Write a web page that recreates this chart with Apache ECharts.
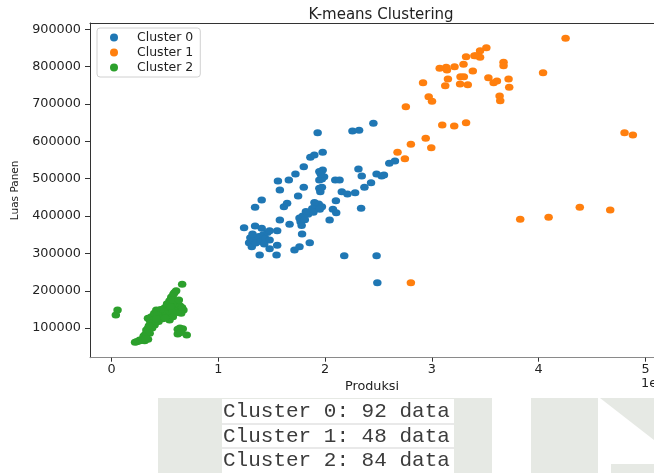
<!DOCTYPE html>
<html>
<head>
<meta charset="utf-8">
<script src="https://cdn.jsdelivr.net/npm/echarts@6/dist/echarts.min.js"></script>
<style>
html,body{margin:0;padding:0;background:#fff;}
#chart{width:654px;height:473px;}
</style>
</head>
<body>
<div id="chart"></div>
<script>
// ---- data (x = Produksi, y = Luas Panen) ----
const seriesNames = ['Cluster 0', 'Cluster 1', 'Cluster 2'];
const clusterCounts = [92, 48, 84];

const cluster0X = [2.452,1.930,2.256,2.318,1.977,1.862,1.899,1.800,1.722,1.660,1.558,1.576,1.406,1.344,1.241,1.344,1.406,1.288,1.313,
  1.30,1.33,1.36,1.38,1.42,1.35,1.40,1.44,1.32,1.46,1.480,1.551,1.480,1.387,1.480,1.551,1.545,1.713,1.760,1.856,1.784,1.667,1.576,
  1.614,1.644,1.747,1.800,1.76,1.79,1.77,1.81,1.84,1.78,1.82,1.88,1.91,1.94,1.97,1.90,1.95,1.946,1.955,1.970,1.946,1.977,1.970,
  1.946,1.99,2.095,2.135,2.101,2.042,2.073,2.104,2.156,2.209,2.281,2.312,2.343,2.337,2.368,2.430,2.482,2.529,2.551,2.601,2.654,
  2.179,2.482,2.489,1.43,1.89,1.96];
const cluster0Y = [648300,623200,627700,629600,570700,557300,563500,532100,512600,496500,493800,469700,443000,423400,368800,373300,367200,328700,317900,
  342000,335000,338000,345000,350000,328000,332000,340000,352000,356000,335900,360800,360800,295700,312600,321700,295700,309100,317900,328700,351900,377900,389400,
  425100,434200,453700,476900,395000,400000,385000,390000,405000,375000,412000,420000,428000,432000,425000,436000,418000,474300,465200,477000,519000,523000,499000,
  496500,505000,496500,496500,441100,389400,418000,408900,465200,459100,462500,525800,507200,420800,476900,489300,512600,507200,509900,541200,547400,
  293900,293900,221600,325000,410000,512000];

const cluster1X = [4.252,3.510,3.451,3.413,3.451,3.398,3.320,3.671,3.671,3.296,3.212,3.134,3.073,3.141,3.383,4.041,2.917,3.150,3.268,3.299,
  3.264,3.336,3.125,3.529,3.578,3.609,3.718,3.724,2.970,3.001,3.634,3.640,2.756,3.097,3.209,3.320,4.804,4.882,2.942,2.803,2.994,2.678,2.747,
  3.827,4.093,4.385,4.670,2.803];
const cluster1Y = [875900,850700,842700,829300,825000,829300,826600,811600,802500,806300,799900,798300,795600,791000,788400,783800,757000,766900,773100,773100,
  753500,751700,749000,770400,757000,761600,766900,744700,719500,707200,721400,708800,692800,643800,641100,650100,623200,617000,608200,592100,583000,570700,553600,
  391300,396600,423400,416200,221600];

const cluster2X = [0.056,0.040,0.661,0.605,0.580,0.559,0.543,0.590,0.570,0.673,0.652,0.466,0.48,0.50,0.52,0.54,0.56,0.58,0.60,0.62,0.64,
  0.50,0.52,0.54,0.56,0.58,0.60,0.62,0.55,0.53,0.51,0.57,0.49,0.47,0.45,0.44,0.46,0.60,0.62,0.64,0.66,0.52,0.55,0.57,0.543,0.574,
  0.341,0.372,0.419,0.40,0.43,0.39,0.36,0.372,0.341,0.403,0.419,0.326,0.357,0.310,0.38,0.35,0.33,0.30,
  0.233,0.264,0.310,0.341,0.25,0.28,0.22,0.32,0.620,0.667,0.620,0.704,0.64,0.65,0.48,0.46,0.44,0.42,0.50,0.63];
const cluster2Y = [148500,135100,217300,200000,191300,182500,173400,195000,185000,148500,139600,141200,150000,155000,160000,165000,168000,165000,160000,155000,150000,
  145000,148000,152000,155000,150000,145000,142000,140000,135000,138000,143000,130000,135000,140000,145000,150000,170000,165000,160000,155000,165000,158000,175000,121700,130600,
  126200,130600,148500,140000,135000,122000,120000,112800,99400,108300,117100,94900,86100,81500,100000,106000,88000,78000,
  63600,68100,66300,70000,65000,67000,62000,72000,96800,98400,84200,81500,100000,88000,125000,128000,118000,125000,128000,175000];

const xTickValues = [0, 1, 2, 3, 4, 5];              // in units of 1e6
const yTickValues = [100000,200000,300000,400000,500000,600000,700000,800000,900000];
const colors = ['#1f77b4', '#ff7f0e', '#2ca02c'];

const FONT = 'DejaVu Sans';
function pairs(xs, ys) { return xs.map((x, i) => [x * 1e6, ys[i]]); }

const chart = echarts.init(document.getElementById('chart'));
const axisText = { fontFamily: FONT, fontSize: 12.8, color: '#222' };

const option = {
  animation: false,
  backgroundColor: '#fff',
  title: {
    text: 'K-means Clustering', left: 376, top: 3, textAlign: 'center',
    textStyle: { fontFamily: FONT, fontSize: 15, fontWeight: 'normal', color: '#222' }
  },
  legend: {
    orient: 'vertical', left: 97, top: 28,
    padding: [2, 7, 2, 13],
    itemWidth: 8, itemHeight: 8, itemGap: 0, icon: 'circle',
    backgroundColor: 'rgba(255,255,255,0.8)', borderColor: '#d0d0d0', borderWidth: 1, borderRadius: 3,
    formatter: name => '{s|}' + name,
    textStyle: { fontFamily: FONT, fontSize: 12.5, color: '#222', lineHeight: 15,
      rich: { s: { width: 14, fontSize: 12.5, lineHeight: 15 } } },
    data: seriesNames
  },
  grid: { left: 90, top: 23, width: 567.3, height: 334.7, containLabel: false },
  xAxis: [{
    type: 'value', min: -202000, max: 5080000,
    axisLine: { show: true, onZero: false, lineStyle: { color: '#8a8a8a', width: 1 } },
    axisTick: { show: true, length: 4, customValues: xTickValues.map(v => v * 1e6), lineStyle: { color: '#333' } },
    axisLabel: Object.assign({ customValues: xTickValues.map(v => v * 1e6), margin: 5,
      formatter: v => String(Math.round(v / 1e6)) }, axisText),
    splitLine: { show: false },
    name: 'Produksi', nameLocation: 'middle', nameGap: 19,
    nameTextStyle: { fontFamily: FONT, fontSize: 12.8, color: '#222' }
  }, {
    type: 'value', position: 'top', min: -202000, max: 5080000,
    axisLine: { show: true, onZero: false, lineStyle: { color: '#333', width: 1 } },
    axisTick: { show: false }, axisLabel: { show: false }, splitLine: { show: false }
  }],
  yAxis: {
    type: 'value', min: 20750, max: 916900,
    axisLine: { show: true, onZero: false, lineStyle: { color: '#333', width: 1 } },
    axisTick: { show: true, length: 5, customValues: yTickValues, lineStyle: { color: '#333' } },
    axisLabel: Object.assign({ customValues: yTickValues, margin: 9, formatter: v => String(v) }, axisText),
    splitLine: { show: false },
    name: 'Luas Panen', nameLocation: 'middle', nameRotate: 90, nameGap: 63,
    nameTextStyle: { fontFamily: FONT, fontSize: 10.5, color: '#222' }
  },
  series: [
    { name: seriesNames[0], type: 'scatter', xAxisIndex: 0, data: pairs(cluster0X, cluster0Y), symbol: 'circle', symbolSize: [8.5, 7], itemStyle: { color: colors[0], opacity: 1 } },
    { name: seriesNames[1], type: 'scatter', xAxisIndex: 0, data: pairs(cluster1X, cluster1Y), symbol: 'circle', symbolSize: [8.5, 7], itemStyle: { color: colors[1], opacity: 1 } },
    { name: seriesNames[2], type: 'scatter', xAxisIndex: 0, data: pairs(cluster2X, cluster2Y), symbol: 'circle', symbolSize: [8.5, 7], itemStyle: { color: colors[2], opacity: 1 } }
  ],
  graphic: [
    // offset text of x axis
    { type: 'text', left: 641, top: 377, style: { text: '1e6', fontFamily: FONT, fontSize: 12.8, fill: '#222' } },
    // faint background watermark shapes of the lower strip
    { type: 'rect', shape: { x: 158, y: 398, width: 334, height: 75 }, style: { fill: '#e6e9e4' }, silent: true },
    { type: 'rect', shape: { x: 531, y: 398, width: 67, height: 75 }, style: { fill: '#e6e9e4' }, silent: true },
    { type: 'polygon', shape: { points: [[600, 398], [654, 398], [654, 440]] }, style: { fill: '#e6e9e4' }, silent: true },
    { type: 'rect', shape: { x: 611, y: 464, width: 43, height: 9 }, style: { fill: '#e6e9e4' }, silent: true },
    // printed output box
    { type: 'rect', shape: { x: 222, y: 399, width: 232, height: 74 }, style: { fill: '#ffffff' }, silent: true },
    { type: 'line', shape: { x1: 222, y1: 424, x2: 454, y2: 424 }, style: { stroke: '#e2e2e2', lineWidth: 1.5 }, silent: true },
    { type: 'line', shape: { x1: 222, y1: 448, x2: 454, y2: 448 }, style: { stroke: '#e2e2e2', lineWidth: 1.5 }, silent: true },
    { type: 'text', x: 223, y: 411.5, style: { text: 'Cluster 0: ' + clusterCounts[0] + ' data', fontFamily: 'Liberation Mono', fontSize: 21, fill: '#3c3c3c', verticalAlign: 'middle' } },
    { type: 'text', x: 223, y: 436, style: { text: 'Cluster 1: ' + clusterCounts[1] + ' data', fontFamily: 'Liberation Mono', fontSize: 21, fill: '#3c3c3c', verticalAlign: 'middle' } },
    { type: 'text', x: 223, y: 460.5, style: { text: 'Cluster 2: ' + clusterCounts[2] + ' data', fontFamily: 'Liberation Mono', fontSize: 21, fill: '#3c3c3c', verticalAlign: 'middle' } }
  ]
};
chart.setOption(option);
</script>
</body>
</html>
